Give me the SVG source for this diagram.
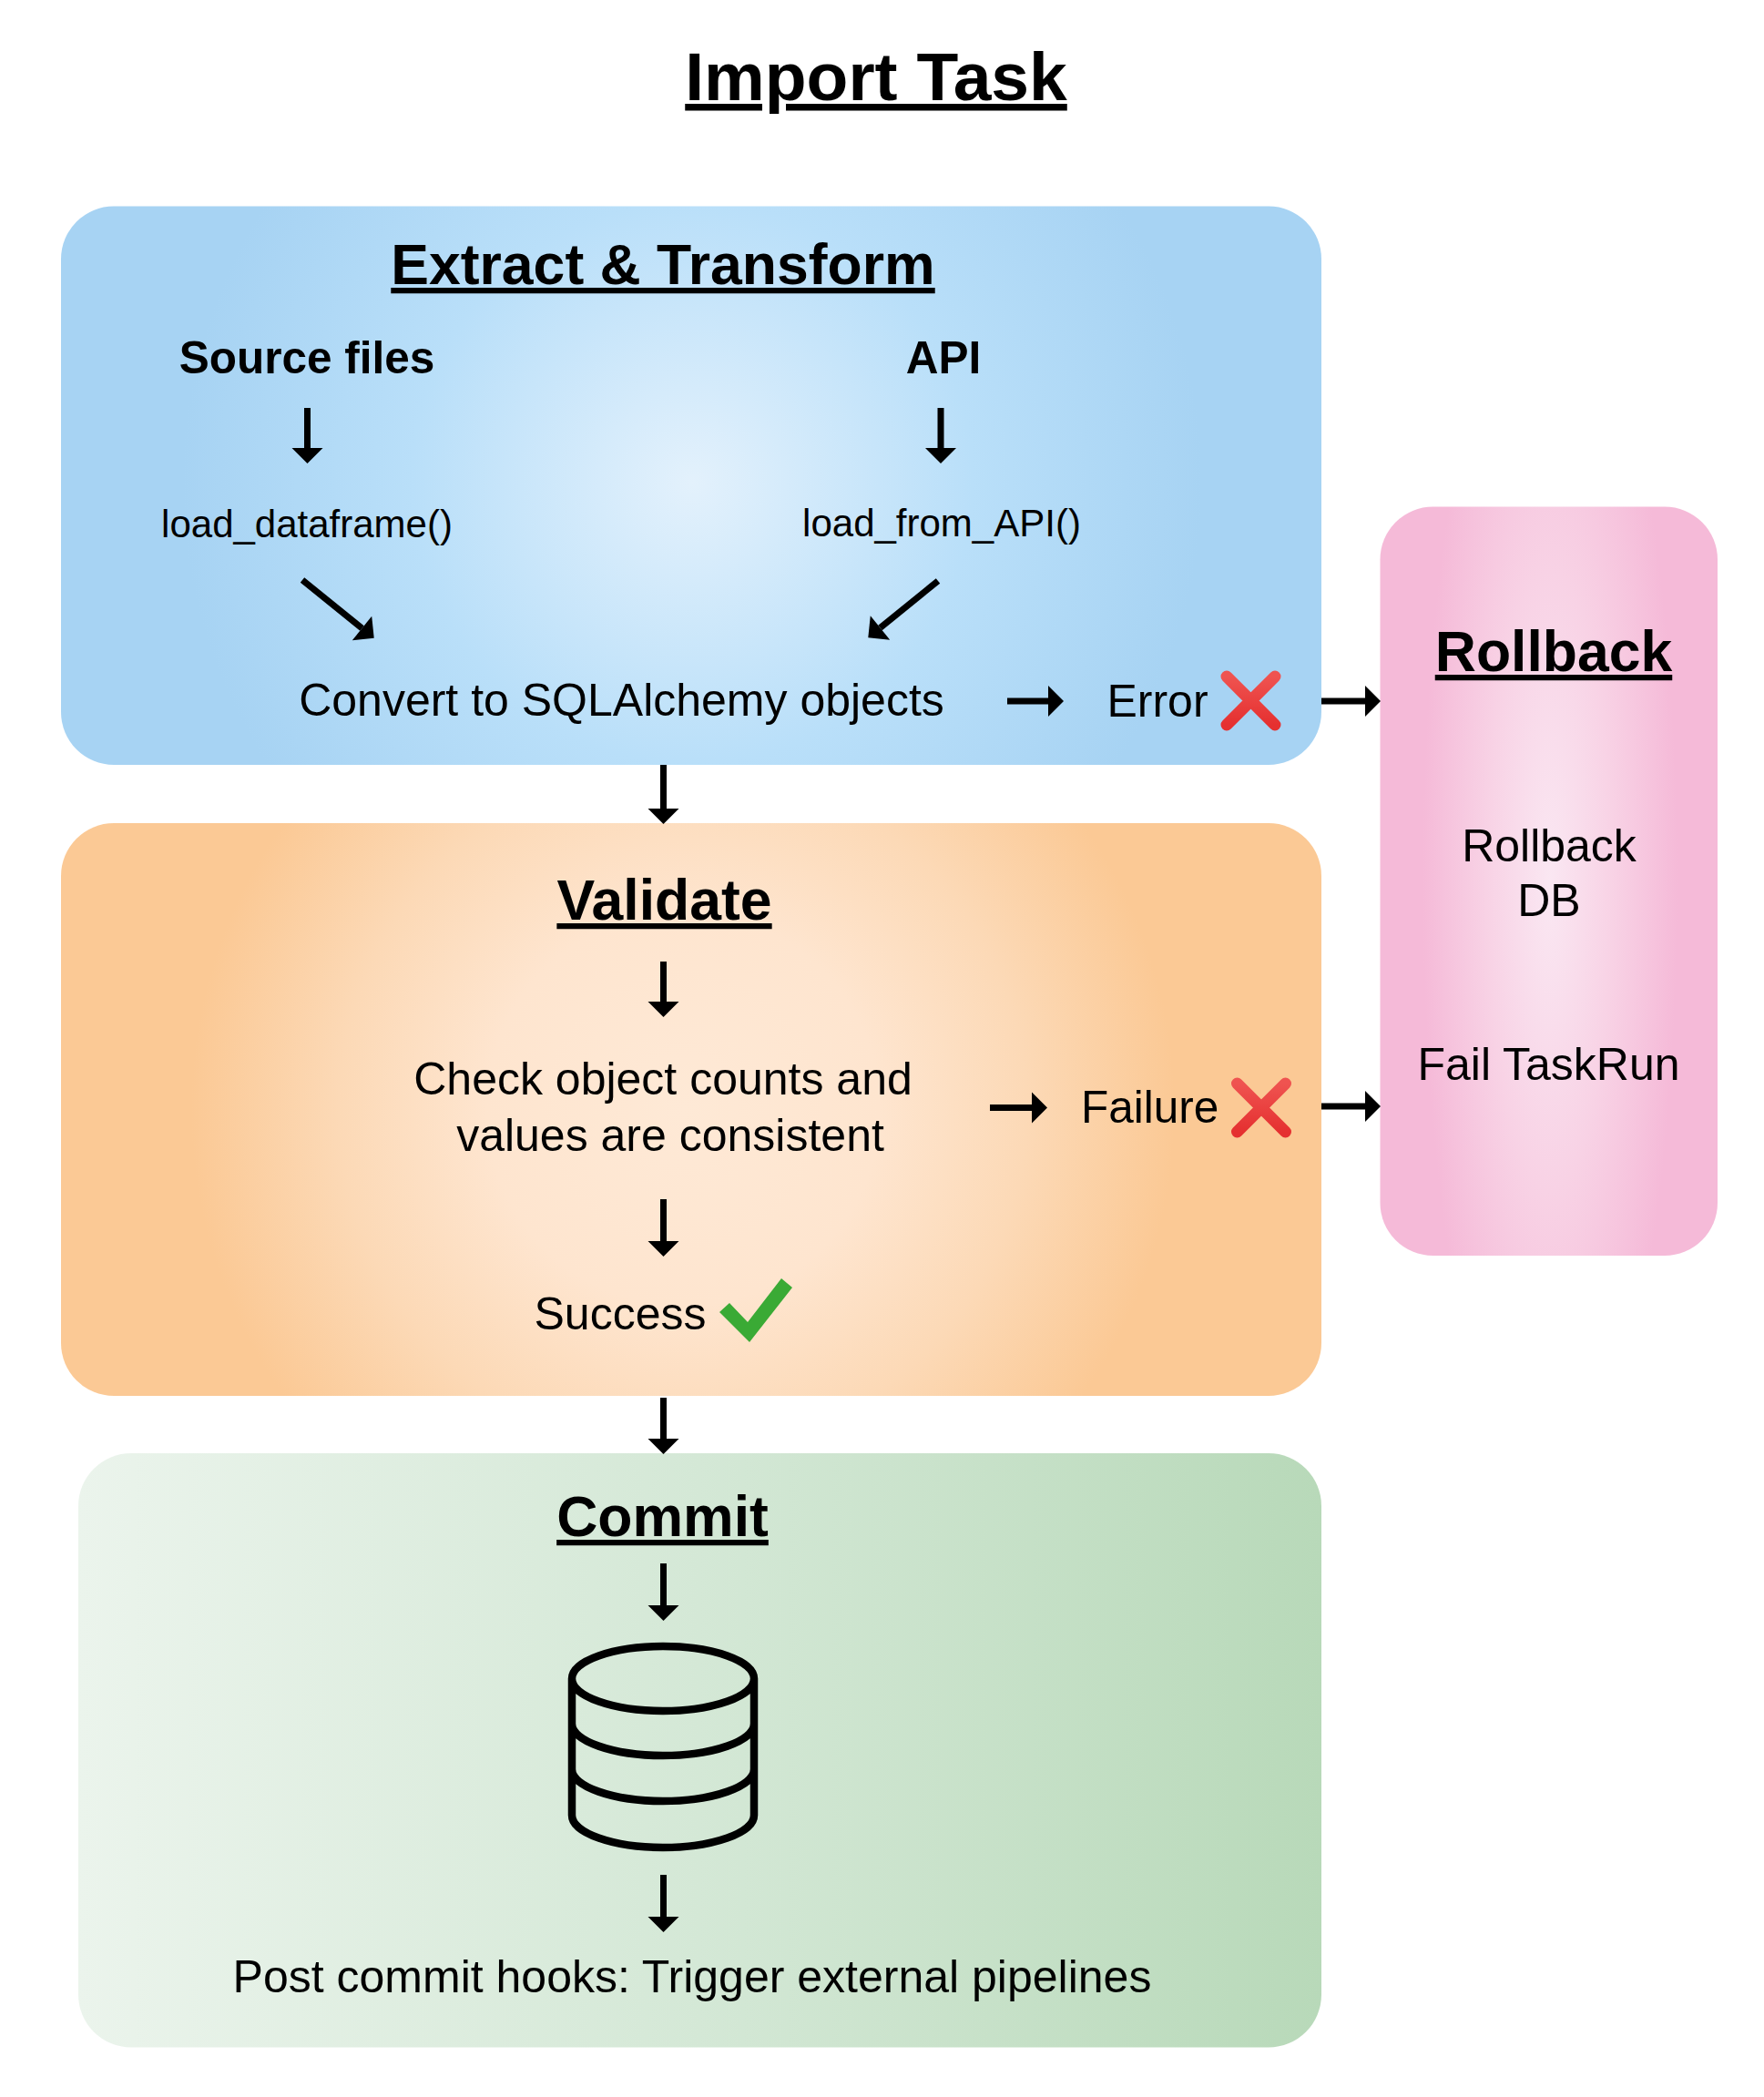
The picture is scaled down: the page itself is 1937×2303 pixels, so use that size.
<svg xmlns="http://www.w3.org/2000/svg" width="1937" height="2303" viewBox="0 0 1937 2303">
<style>
text{font-family:"Liberation Sans",Arial,sans-serif;fill:#000}
.h{font-weight:700;font-size:62.5px;text-decoration:underline;text-decoration-thickness:6.5px;text-anchor:middle}
.b{font-weight:700;font-size:49.5px;text-anchor:middle}
.t{font-size:50px;text-anchor:middle}
.s{font-size:42px;text-anchor:middle}
.c{fill:none;stroke:#000;stroke-width:7;marker-end:url(#ah)}
.x{stroke:url(#xg);stroke-width:13;stroke-linecap:round;fill:none}
.db{fill:none;stroke:#000;stroke-width:8.5}
</style>
<defs>
<marker id="ah" markerUnits="userSpaceOnUse" markerWidth="17" markerHeight="34" refX="0" refY="17" orient="auto" overflow="visible"><path d="M0 0L17 17L0 34Z" fill="#000"/></marker>
<radialGradient id="bl" gradientUnits="userSpaceOnUse" cx="760" cy="530" r="560"><stop offset="0" stop-color="#e3f1fc"/><stop offset=".55" stop-color="#b9dff9"/><stop offset="1" stop-color="#a7d3f3"/></radialGradient>
<radialGradient id="or" gradientUnits="userSpaceOnUse" cx="750" cy="1218" r="540"><stop offset="0" stop-color="#fee9d6"/><stop offset=".4" stop-color="#fee5cf"/><stop offset=".7" stop-color="#fcd9b6"/><stop offset="1" stop-color="#fbc995"/></radialGradient>
<linearGradient id="gr" gradientUnits="userSpaceOnUse" x1="86" y1="0" x2="1451" y2="0"><stop offset="0" stop-color="#ebf4ec"/><stop offset=".5" stop-color="#d4e8d6"/><stop offset="1" stop-color="#b8d9b9"/></linearGradient>
<radialGradient id="pk" gradientUnits="userSpaceOnUse" cx="0" cy="0" r="1" gradientTransform="translate(1702 968) scale(140 680)"><stop offset="0" stop-color="#fae7f2"/><stop offset=".5" stop-color="#f8d2e5"/><stop offset="1" stop-color="#f5bad8"/></radialGradient>
<linearGradient id="xg" gradientUnits="objectBoundingBox" x1="0" y1="0" x2="0" y2="1"><stop offset="0" stop-color="#ef5350"/><stop offset="1" stop-color="#e53030"/></linearGradient>
</defs>
<text id="title" x="962" y="110" text-anchor="middle" style="font-weight:700;font-size:75px;text-decoration:underline;text-decoration-thickness:7px">Import Task</text>
<g id="extract">
<rect x="67" y="226.500" width="1384" height="613.500" rx="58" fill="url(#bl)"/>
<text class="h" x="728" y="312">Extract &amp; Transform</text>
<text class="b" x="337" y="409.500">Source files</text>
<text class="b" x="1036" y="409.500">API</text>
<text class="s" x="337" y="590">load_dataframe()</text>
<text class="s" x="1034" y="589">load_from_API()</text>
<text class="t" x="682.500" y="786">Convert to SQLAlchemy objects</text>
<text class="t" x="1271" y="787">Error</text>
<path class="x" d="M1347 743L1400 796M1400 743L1347 796"/>
</g>
<g id="validate">
<rect x="67" y="904" width="1384" height="629" rx="58" fill="url(#or)"/>
<text class="h" x="729.500" y="1010">Validate</text>
<text class="t" x="728" y="1202">Check object counts and</text>
<text class="t" x="736" y="1264">values are consistent</text>
<text class="t" x="681" y="1460">Success</text>
<path d="M790 1441L801 1431L821 1452L858 1404L870 1414L823 1474Z" fill="#3aaa35"/>
<text x="1187" y="1233" style="font-size:49.500px">Failure</text>
<path class="x" d="M1358.500 1190L1411.500 1243M1411.500 1190L1358.500 1243"/>
</g>
<g id="commit">
<rect x="86" y="1596" width="1365" height="652.500" rx="58" fill="url(#gr)"/>
<text class="h" x="727.500" y="1687">Commit</text>
<path class="db" d="M628 1843.500C628 1824 673 1808 728 1808C783 1808 828 1824 828 1843.500C828 1863 783 1879 728 1879C673 1879 628 1863 628 1843.500ZM628 1843.500V1993.500C628 2013 673 2029 728 2029C783 2029 828 2013 828 1993.500V1843.500M628 1893C628 1912 673 1928 728 1928C783 1928 828 1912 828 1893M628 1943C628 1962 673 1978 728 1978C783 1978 828 1962 828 1943"/>
<text class="t" x="760" y="2188">Post commit hooks: Trigger external pipelines</text>
</g>
<g id="rollback">
<rect x="1515.500" y="556.500" width="370.500" height="822.500" rx="58" fill="url(#pk)"/>
<text class="h" x="1706" y="737">Rollback</text>
<text class="t" x="1701" y="946">Rollback</text>
<text class="t" x="1701" y="1006">DB</text>
<text class="t" x="1700.500" y="1186">Fail TaskRun</text>
</g>
<g id="connectors">
<path class="c" d="M337.500 448V492"/>
<path class="c" d="M1033 448V492"/>
<path class="c" d="M332 637L397.500 690"/>
<path class="c" d="M1030 638L966.500 689.500"/>
<path class="c" d="M1106 770H1151"/>
<path class="c" d="M1451 770H1499"/>
<path class="c" d="M728.500 840V888"/>
<path class="c" d="M728.500 1056V1100"/>
<path class="c" d="M1087 1216.500H1133"/>
<path class="c" d="M1451 1215H1499"/>
<path class="c" d="M728.500 1317V1363"/>
<path class="c" d="M728.500 1535V1580"/>
<path class="c" d="M728.500 1717V1763"/>
<path class="c" d="M728.500 2059V2105"/>
</g>
</svg>
